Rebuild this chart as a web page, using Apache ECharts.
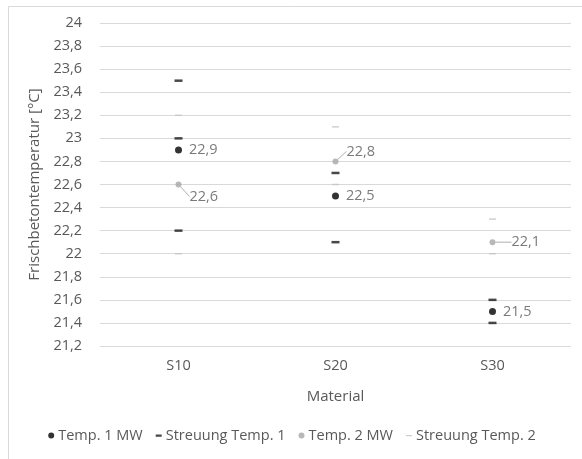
<!DOCTYPE html>
<html><head><meta charset="utf-8">
<script src="https://cdn.jsdelivr.net/npm/echarts@6/dist/echarts.min.js"></script>
<style>html,body{margin:0;padding:0;background:#fff}#c{width:582px;height:459px}</style>
</head><body><div id="c"></div>
<script>
const categories = ['S10', 'S20', 'S30'];
const temp1MW = [22.9, 22.5, 21.5];
const temp2MW = [22.6, 22.8, 22.1];
const streuung1 = [[23.5, 23.0, 22.2], [22.7, 22.1], [21.6, 21.4]];
const streuung2 = [[23.2, 22.0], [23.1, 22.6], [22.3, 22.0]];
const yTicks = { min: 21.2, max: 24, interval: 0.2 };

const fmt = v => {
  const r = Math.round(v * 10) / 10;
  return String(r).replace('.', ',');
};
const font = 'Open Sans';
const txt = '#595959';
const fs = 14.5;

function flat(arr) {
  const out = [];
  arr.forEach((vals, i) => vals.forEach(v => out.push([categories[i], v])));
  return out;
}

const dotIcon = 'path://M0,0L0.01,0Z M0,10L0.01,10Z M10,0L10.01,0Z M8,5A3,3 0 1 1 2,5A3,3 0 1 1 8,5Z';
const dashIcon = 'path://M0,0L0.01,0Z M0,10L0.01,10Z M10,0L10.01,0Z M2,4L8,4L8,6.3L2,6.3Z';
const thinDashIcon = 'path://M0,0L0.01,0Z M0,10L0.01,10Z M10,0L10.01,0Z M2,4.5L8,4.5L8,5.7L2,5.7Z';

const t2Offsets = [[0, 12], [0, -10], [8, 0]];

const chart = echarts.init(document.getElementById('c'), null, { renderer: 'canvas' });
chart.setOption({
  animation: false,
  graphic: [{ type: 'rect', shape: { x: 8.5, y: 6.5, width: 580, height: 460 }, style: { fill: 'none', stroke: '#d9d9d9', lineWidth: 1 }, silent: true }],
  grid: { left: 100, right: 11, top: 23, bottom: 113 },
  legend: {
    bottom: 11, left: 'center', itemGap: 11, itemWidth: 10, itemHeight: 10,
    textStyle: { color: txt, fontFamily: font, fontSize: fs, padding: [0, 0, 0, -3] },
    data: [
      { name: 'Temp. 1 MW', icon: dotIcon },
      { name: 'Streuung Temp. 1', icon: dashIcon },
      { name: 'Temp. 2 MW', icon: dotIcon },
      { name: 'Streuung Temp. 2', icon: thinDashIcon }
    ]
  },
  xAxis: {
    type: 'category', data: categories, name: 'Material', nameLocation: 'middle', nameGap: 43,
    nameTextStyle: { color: txt, fontFamily: font, fontSize: 15 },
    axisLine: { show: false }, axisTick: { show: false },
    axisLabel: { color: txt, fontFamily: font, fontSize: fs, margin: 12 }
  },
  yAxis: {
    type: 'value', min: yTicks.min, max: yTicks.max, interval: yTicks.interval,
    name: 'Frischbetontemperatur [°C]', nameLocation: 'middle', nameGap: 56, nameRotate: 90,
    nameTextStyle: { color: txt, fontFamily: font, fontSize: 15 },
    axisLine: { show: false }, axisTick: { show: false },
    axisLabel: { color: txt, fontFamily: font, fontSize: fs, margin: 18, formatter: fmt },
    splitLine: { lineStyle: { color: '#d9d9d9', width: 1 } }
  },
  series: [
    {
      name: 'Streuung Temp. 2', type: 'scatter', symbol: 'rect', symbolSize: [7, 1.5],
      itemStyle: { color: '#c4c4c4' }, data: flat(streuung2), z: 2
    },
    {
      name: 'Streuung Temp. 1', type: 'scatter', symbol: 'rect', symbolSize: [8, 2.5],
      itemStyle: { color: '#1a1a1a' }, data: flat(streuung1), z: 3
    },
    {
      name: 'Temp. 2 MW', type: 'scatter', symbol: 'circle', symbolSize: 6,
      itemStyle: { color: '#a6a6a6' }, z: 4,
      data: temp2MW.map((v, i) => [categories[i], v]),
      label: { show: true, position: 'right', distance: 8, color: txt, fontFamily: font, fontSize: fs, formatter: p => fmt(p.value[1]) },
      labelLayout: p => ({ dx: t2Offsets[p.dataIndex][0], dy: t2Offsets[p.dataIndex][1] }),
      labelLine: { show: true, lineStyle: { color: '#b0b0b0', width: 1 } }
    },
    {
      name: 'Temp. 1 MW', type: 'scatter', symbol: 'circle', symbolSize: 7,
      itemStyle: { color: '#000' }, z: 5,
      data: temp1MW.map((v, i) => [categories[i], v]),
      label: { show: true, position: 'right', distance: 7, color: txt, fontFamily: font, fontSize: fs, formatter: p => fmt(p.value[1]) }
    }
  ]
});
</script></body></html>
